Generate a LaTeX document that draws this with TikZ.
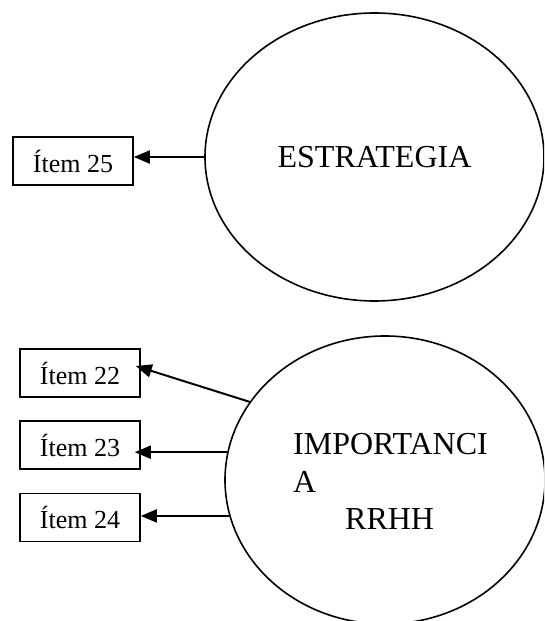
\documentclass[tikz,border=0pt]{standalone}
\usepackage{fontspec}
\setmainfont{Liberation Serif}
\usetikzlibrary{shapes.geometric,arrows.meta}

\tikzset{
  bubble/.style={ellipse, draw, line width=1.6pt, inner sep=0pt},
  itembox/.style={rectangle, draw, line width=1.6pt, minimum width=120pt,
    minimum height=48pt, inner sep=0pt, font=\fontsize{26}{30}\selectfont},
  link/.style={line width=2pt, -{Triangle[length=16pt,width=13pt]}},
}

\begin{document}
\begin{tikzpicture}[x=1pt,y=1pt]
  \useasboundingbox (0,0) rectangle (544,621);
  \clip (0,0) rectangle (544,621);

  % upper construct
  \node[bubble, minimum width=339pt, minimum height=288pt,
        font=\fontsize{32}{37}\selectfont] (est) at (374.5,464) {ESTRATEGIA};
  \node[itembox] (i25) at (73,460) {Ítem 25};

  % lower construct
  \node[bubble, minimum width=320pt, minimum height=288pt] (imp) at (385,141) {};
  \node[anchor=base west, inner sep=0pt, font=\fontsize{32}{37.5}\selectfont]
    (implabel) at (293,166)
    {\begin{tabular}[t]{@{}l@{}}IMPORTANCI\\A\\\hspace{52pt}RRHH\end{tabular}};
  \node[itembox] (i22) at (80,248) {Ítem 22};
  \node[itembox] (i23) at (80,176) {Ítem 23};
  \node[itembox] (i24) at (80,103.5) {Ítem 24};

  % indicator arrows
  \draw[link] (est.west) -- (est.west -| i25.east);
  \draw[link] (imp.150) -- ([shift={(-5pt,7pt)}]i22.east);
  \draw[link] (imp.170) -- ([xshift=-6pt]i23.east |- imp.170);
  \draw[link] (imp.193) -- (i24.east |- imp.193);
\end{tikzpicture}
\end{document}
